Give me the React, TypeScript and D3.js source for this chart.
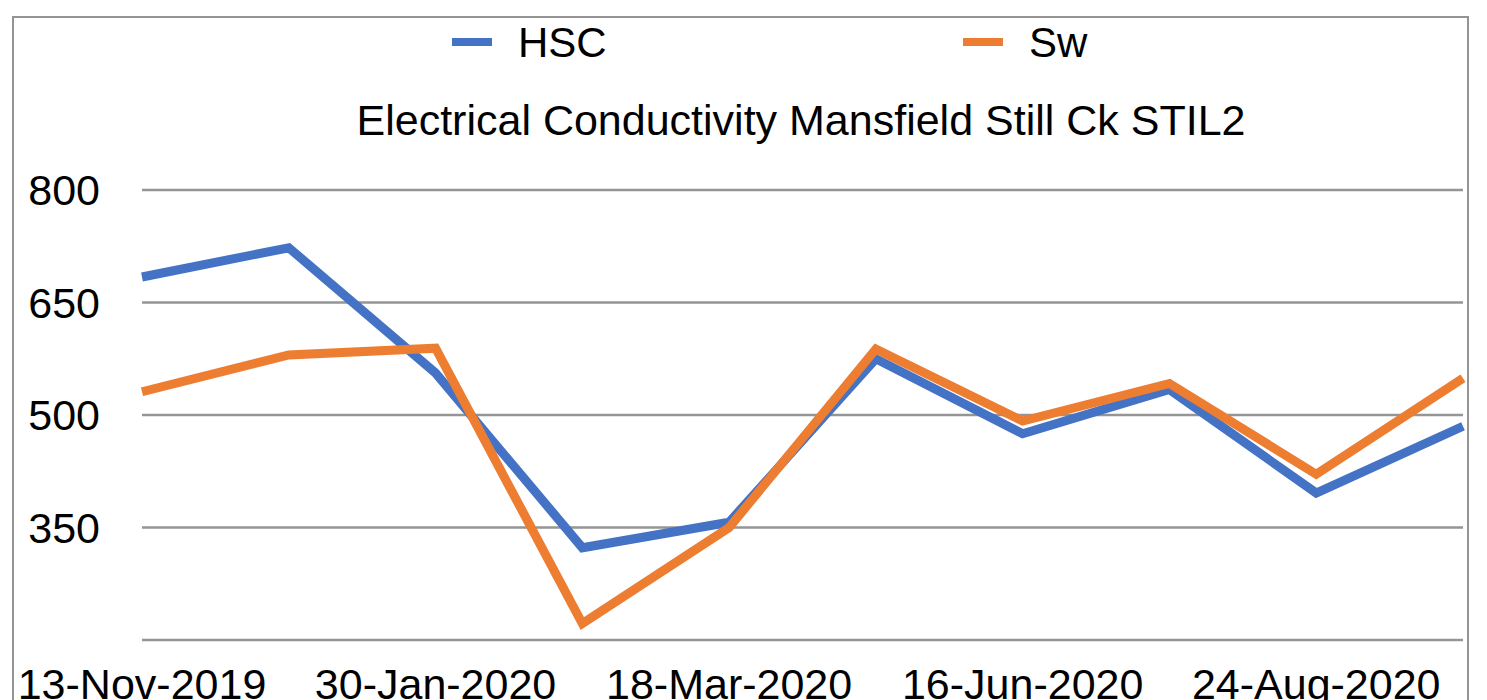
import React from "react";
import * as d3 from "d3";

const dates = [
  "13-Nov-2019", "11-Dec-2019", "30-Jan-2020", "19-Feb-2020", "18-Mar-2020",
  "13-May-2020", "16-Jun-2020", "21-Jul-2020", "24-Aug-2020", "22-Sep-2020",
];
const shownLabels = ["13-Nov-2019", "30-Jan-2020", "18-Mar-2020", "16-Jun-2020", "24-Aug-2020"];
const hscValues = [684, 723, 556, 323, 357, 575, 475, 534, 396, 485];
const swValues = [531, 580, 589, 222, 350, 588, 492, 542, 421, 549];
const yTicks = [200, 350, 500, 650, 800];
const yTickLabels = ["", "350", "500", "650", "800"];
const seriesNames = ["HSC", "Sw"];
const seriesColors = ["#4472C4", "#ED7D31"];

const W = 1487;
const H = 700;
const FONT = "'Liberation Sans', Arial, Helvetica, sans-serif";

export default function App() {
  const x = d3.scalePoint<string>().domain(dates).range([142, 1463]);
  const y = d3.scaleLinear().domain([200, 800]).range([640, 190]);
  const line = d3
    .line<number>()
    .x((_, i) => x(dates[i]) as number)
    .y((d) => y(d));
  const series = [hscValues, swValues];
  const legendX = [452, 963];

  return (
    <svg
      width={W}
      height={H}
      style={{ position: "absolute", left: 0, top: 0, background: "#fff" }}
      fontFamily={FONT}
    >
      <rect x={0} y={0} width={W} height={H} fill="#fff" />
      <rect x={13} y={17} width={1455} height={720} fill="none" stroke="#949494" strokeWidth={2} />
      {yTicks.map((t, i) => (
        <g key={t}>
          <line x1={142} x2={1463} y1={y(t)} y2={y(t)} stroke="#959595" strokeWidth={2.6} />
          {yTickLabels[i] && (
            <text x={100} y={y(t)} dy="0.36em" textAnchor="end" fontSize={43} fill="#000">
              {yTickLabels[i]}
            </text>
          )}
        </g>
      ))}
      {dates.map((d) =>
        shownLabels.includes(d) ? (
          <text key={d} x={x(d)} y={699} textAnchor="middle" fontSize={43} fill="#000">
            {d}
          </text>
        ) : null
      )}
      {series.map((vals, i) => (
        <path
          key={seriesNames[i]}
          d={line(vals) || ""}
          fill="none"
          stroke={seriesColors[i]}
          strokeWidth={9}
          strokeLinejoin="miter"
        />
      ))}
      {seriesNames.map((n, i) => (
        <g key={n}>
          <line x1={legendX[i]} x2={legendX[i] + 40} y1={42} y2={42} stroke={seriesColors[i]} strokeWidth={8} />
          <text x={legendX[i] + 66} y={57} fontSize={42} fill="#000">
            {n}
          </text>
        </g>
      ))}
      <text x={801} y={135} textAnchor="middle" fontSize={43} fill="#000">
        Electrical Conductivity Mansfield Still Ck STIL2
      </text>
    </svg>
  );
}
